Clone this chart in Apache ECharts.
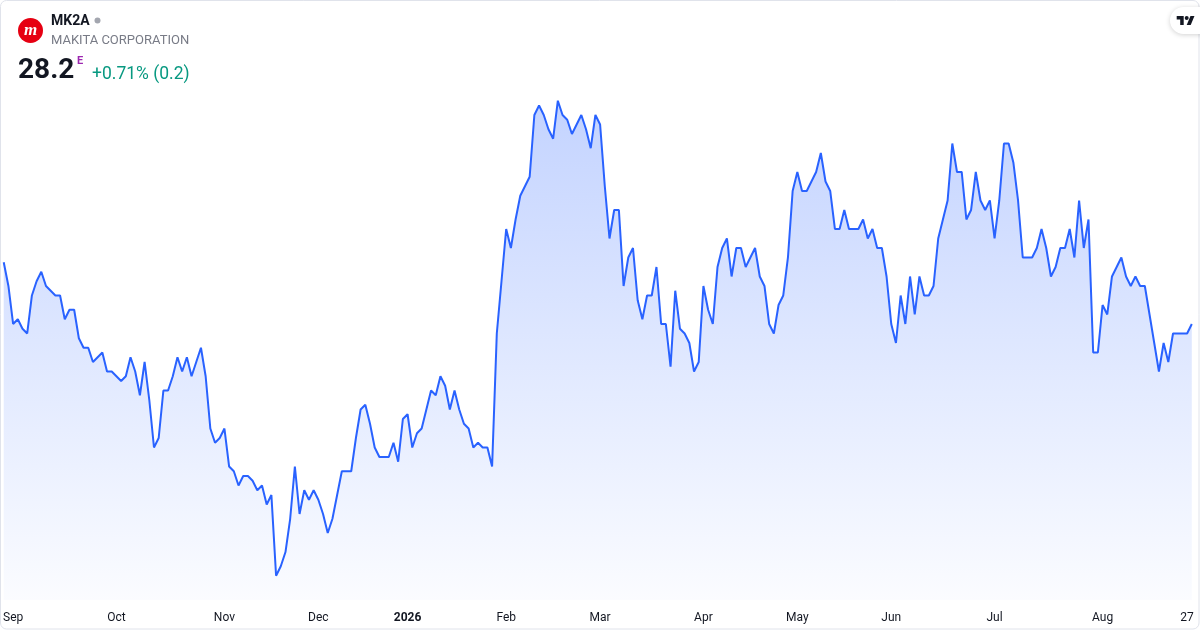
<!DOCTYPE html>
<html>
<head>
<meta charset="utf-8">
<script src="https://cdn.jsdelivr.net/npm/echarts@6/dist/echarts.min.js"></script>
<style>
html,body{margin:0;padding:0;background:#fff;}
#chart{width:1200px;height:630px;}
</style>
</head>
<body>
<div id="chart"></div>
<script>
// ---- data ----
const startDate = '2025-08-28';
const endDate = '2026-08-28';
const holidays = ['2025-12-24','2025-12-25','2025-12-26','2025-12-31','2026-01-01','2026-04-03','2026-04-06','2026-05-01'];
const closePrices = [
29.5, 29.0, 28.2, 28.3, 28.1, 28.0, 28.8, 29.1, 29.3, 29.0,
28.9, 28.8, 28.8, 28.3, 28.5, 28.5, 27.9, 27.7, 27.7, 27.4,
27.5, 27.6, 27.2, 27.2, 27.1, 27.0, 27.1, 27.5, 27.2, 26.7,
27.4, 26.6, 25.6, 25.8, 26.8, 26.8, 27.1, 27.5, 27.2, 27.5,
27.1, 27.4, 27.7, 27.1, 26.0, 25.7, 25.8, 26.0, 25.2, 25.1,
24.8, 25.0, 25.0, 24.9, 24.7, 24.8, 24.4, 24.6, 22.9, 23.1,
23.4, 24.1, 25.2, 24.2, 24.7, 24.5, 24.7, 24.5, 24.2, 23.8,
24.1, 24.6, 25.1, 25.1, 25.1, 25.8, 26.4, 26.5, 26.1, 25.6,
25.4, 25.4, 25.4, 25.7, 25.3, 26.2, 26.3, 25.6, 25.9, 26.0,
26.4, 26.8, 26.7, 27.1, 26.9, 26.4, 26.8, 26.4, 26.1, 26.0,
25.6, 25.7, 25.6, 25.6, 25.2, 28.0, 29.1, 30.2, 29.8, 30.4,
30.9, 31.1, 31.3, 32.6, 32.8, 32.6, 32.3, 32.1, 32.9, 32.6,
32.5, 32.2, 32.4, 32.6, 32.3, 31.9, 32.6, 32.4, 31.1, 30.0,
30.6, 30.6, 29.0, 29.6, 29.8, 28.7, 28.3, 28.8, 28.8, 29.4,
28.2, 28.2, 27.3, 28.9, 28.1, 28.0, 27.8, 27.2, 27.4, 29.0,
28.5, 28.2, 29.4, 29.8, 30.0, 29.2, 29.8, 29.8, 29.4, 29.6,
29.8, 29.2, 29.0, 28.2, 28.0, 28.6, 28.8, 29.6, 31.0, 31.4,
31.0, 31.0, 31.2, 31.4, 31.8, 31.2, 31.0, 30.2, 30.2, 30.6,
30.2, 30.2, 30.2, 30.4, 30.0, 30.2, 29.8, 29.8, 29.2, 28.2,
27.8, 28.8, 28.2, 29.2, 28.4, 29.2, 28.8, 28.8, 29.0, 30.0,
30.4, 30.8, 32.0, 31.4, 31.4, 30.4, 30.6, 31.4, 30.8, 30.6,
30.8, 30.0, 30.8, 32.0, 32.0, 31.6, 30.8, 29.6, 29.6, 29.6,
29.8, 30.2, 29.8, 29.2, 29.4, 29.8, 29.8, 30.2, 29.6, 30.8,
29.8, 30.4, 27.6, 27.6, 28.6, 28.4, 29.2, 29.4, 29.6, 29.2,
29.0, 29.2, 29.0, 29.0, 28.4, 27.8, 27.2, 27.8, 27.4, 28.0,
28.0, 28.0, 28.0, 28.2
];
const tickDates = ['2025-09-01','2025-10-01','2025-11-03','2025-12-01','2026-01-02','2026-02-02','2026-03-02','2026-04-01','2026-05-04','2026-06-01','2026-07-01','2026-08-03','2026-08-27'];
const tickTexts = ['Sep','Oct','Nov','Dec','2026','Feb','Mar','Apr','May','Jun','Jul','Aug','27'];
const boldTicks = ['2026'];

// trading-day categories
function tradingDays(s, e, hol) {
  const out = [];
  const d = new Date(s + 'T00:00:00Z');
  const end = new Date(e + 'T00:00:00Z');
  while (d <= end) {
    const wd = d.getUTCDay();
    const iso = d.toISOString().slice(0, 10);
    if (wd !== 0 && wd !== 6 && hol.indexOf(iso) < 0) out.push(iso);
    d.setUTCDate(d.getUTCDate() + 1);
  }
  return out;
}
const dates = tradingDays(startDate, endDate, holidays);

const FONT = 'Roboto, "Noto Sans", sans-serif';
const LX = 1176.7, LY = 14, LS = 0.5;
function lp(pts) { return pts.map(function (p) { return [LX + p[0] * LS, LY + p[1] * LS]; }); }

const chart = echarts.init(document.getElementById('chart'));
chart.setOption({
  animation: false,
  backgroundColor: '#ffffff',
  grid: { left: 2.7, right: 8.2, top: 0, bottom: 30, containLabel: false },
  xAxis: {
    type: 'category',
    data: dates,
    boundaryGap: false,
    axisLine: { show: false },
    axisTick: { show: false },
    splitLine: { show: false },
    axisLabel: {
      interval: function (idx, val) { return tickDates.indexOf(val) >= 0; },
      hideOverlap: false,
      margin: 12,
      color: '#131722',
      fontSize: 12,
      fontFamily: FONT,
      formatter: function (val) {
        const k = tickDates.indexOf(val);
        if (k < 0) return '';
        const t = tickTexts[k];
        return boldTicks.indexOf(t) >= 0 ? '{b|' + t + '}' : t;
      },
      rich: { b: { fontWeight: 'bold', fontSize: 12, color: '#131722', fontFamily: FONT } }
    }
  },
  yAxis: {
    type: 'value',
    min: 22.39,
    max: 35.02,
    show: false,
    splitLine: { show: false }
  },
  series: [{
    type: 'line',
    data: closePrices,
    symbol: 'none',
    lineStyle: { color: '#2962FF', width: 2 },
    itemStyle: { color: '#2962FF' },
    areaStyle: {
      opacity: 1,
      color: new echarts.graphic.LinearGradient(0, 0, 0, 1, [
        { offset: 0, color: 'rgba(41,98,255,0.28)' },
        { offset: 1, color: 'rgba(41,98,255,0.02)' }
      ])
    }
  }],
  graphic: [
    { type: 'rect', shape: { x: 0.5, y: 0.5, width: 1198.5, height: 628.5, r: 6 }, style: { fill: 'none', stroke: '#e0e3eb', lineWidth: 1 }, z: 100 },
    { type: 'circle', shape: { cx: 30.5, cy: 30.5, r: 12.5 }, style: { fill: '#e60012' }, z: 101 },
    { type: 'text', x: 30.5, y: 31, style: { text: 'm', fill: '#ffffff', fontSize: 17, fontWeight: 'bold', fontStyle: 'italic', fontFamily: 'serif', align: 'center', verticalAlign: 'middle' }, z: 102 },
    { type: 'text', x: 51, y: 21, style: { text: 'MK2A', fill: '#131722', fontSize: 14, fontWeight: 'bold', fontFamily: FONT, verticalAlign: 'middle' }, z: 101 },
    { type: 'circle', shape: { cx: 97.5, cy: 20.5, r: 3 }, style: { fill: '#a3a6af' }, z: 101 },
    { type: 'text', x: 51, y: 41, style: { text: 'MAKITA CORPORATION', fill: '#787b86', fontSize: 13, fontFamily: FONT, verticalAlign: 'middle' }, z: 101 },
    { type: 'text', x: 18, y: 71, style: { text: '28.2', fill: '#131722', fontSize: 28, fontWeight: 'bold', fontFamily: FONT, verticalAlign: 'middle' }, z: 101 },
    { type: 'text', x: 77, y: 61, style: { text: 'E', fill: '#9c27b0', fontSize: 11, fontWeight: 'bold', fontFamily: FONT, verticalAlign: 'middle' }, z: 101 },
    { type: 'text', x: 92, y: 75, style: { text: '+0.71% (0.2)', fill: '#089981', fontSize: 17.5, fontFamily: FONT, verticalAlign: 'middle' }, z: 101 },
    { type: 'rect', shape: { x: 1170, y: 7, width: 44, height: 27, r: 13.5 }, style: { fill: '#ffffff', shadowBlur: 5, shadowColor: 'rgba(0,0,0,0.18)', shadowOffsetY: 1 }, z: 101 },
    { type: 'polygon', shape: { points: lp([[7,22],[14,22],[14,4],[0,4],[0,11],[7,11]]) }, style: { fill: '#131722' }, z: 102 },
    { type: 'polygon', shape: { points: lp([[20,22],[28,22],[35.5,4],[27.5,4]]) }, style: { fill: '#131722' }, z: 102 },
    { type: 'circle', shape: { cx: LX + 20 * LS, cy: LY + 8 * LS, r: 2 }, style: { fill: '#131722' }, z: 102 }
  ]
});
</script>
</body>
</html>
